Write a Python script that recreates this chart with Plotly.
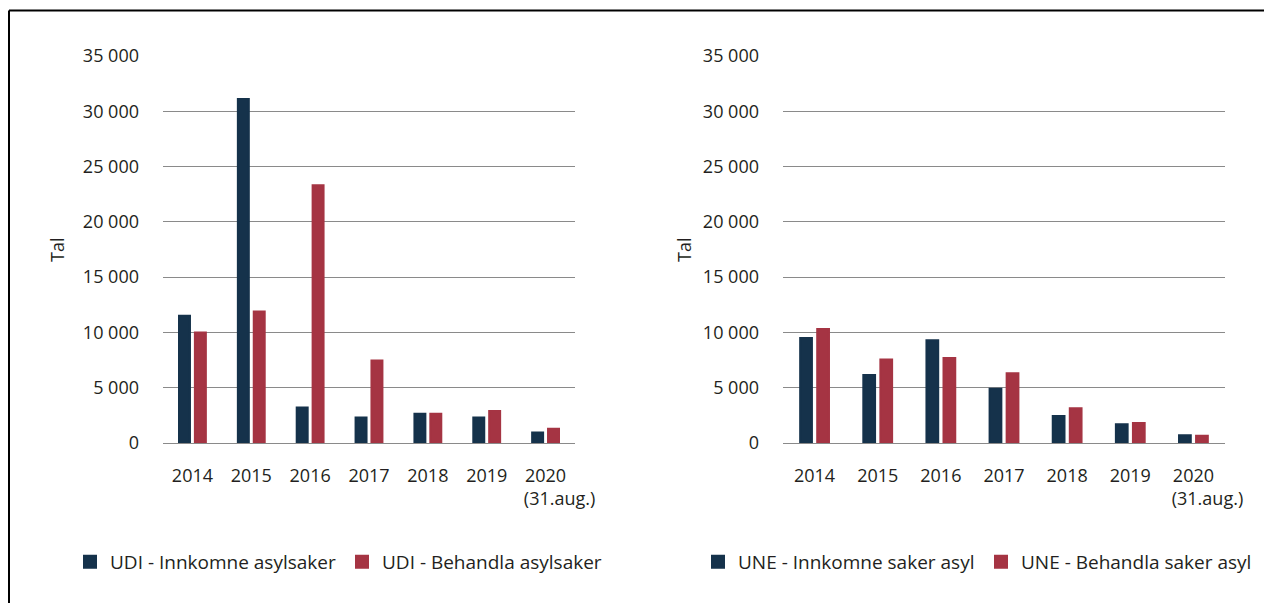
import plotly.graph_objects as go

categories = ["2014", "2015", "2016", "2017", "2018", "2019", "2020<br>(31.aug.)"]
# tick labels as printed (second line of the last label sits to the right, as in the source)
tick_labels = ["2014", "2015", "2016", "2017", "2018", "2019",
               "2020<br>\u00a0\u00a0\u00a0\u00a0\u00a0\u00a0(31.aug.)"]

udi_innkomne = [11500, 31100, 3200, 2300, 2650, 2300, 950]
udi_behandla = [10000, 11900, 23300, 7450, 2650, 2900, 1300]

une_innkomne = [9500, 6150, 9300, 4900, 2450, 1700, 690]
une_behandla = [10300, 7550, 7680, 6300, 3150, 1800, 650]

names_udi = ["UDI - Innkomne asylsaker", "UDI - Behandla asylsaker"]
names_une = ["UNE - Innkomne saker asyl", "UNE - Behandla saker asyl"]

DARK = "#15324b"
RED = "#a53443"
TXT = "#231f20"
GRID = "#8a8a8a"
FONT = "Open Sans"

# page body has an 8px margin: figure fills the rest of the 1272x603 window
OFF = 8
W, H = 1272 - OFF, 603 - OFF


def px(x):
    return (x - OFF) / W


def py(y):
    return 1 - (y - OFF) / H


fig = go.Figure()
for xs, ys, nm, col, xa, ya, lg in [
    (categories, udi_innkomne, names_udi[0], DARK, "x", "y", "legend"),
    (categories, udi_behandla, names_udi[1], RED, "x", "y", "legend"),
    (categories, une_innkomne, names_une[0], DARK, "x2", "y2", "legend2"),
    (categories, une_behandla, names_une[1], RED, "x2", "y2", "legend2"),
]:
    fig.add_trace(go.Bar(x=xs, y=ys, name=nm, marker=dict(color=col, line=dict(color=col, width=2)),
                         xaxis=xa, yaxis=ya, legend=lg))

ydom = [py(443), py(56)]
yax = dict(range=[0, 35000], tickvals=list(range(0, 35001, 5000)), tickformat=",d",
           showgrid=True, gridcolor=GRID, gridwidth=1.3, zeroline=True, zerolinecolor=GRID,
           zerolinewidth=1.3, showline=False, ticks="", ticklabelstandoff=23, automargin=False,
           tickfont=dict(size=18, color=TXT, family=FONT), domain=ydom, fixedrange=True)
xax = dict(type="category", showline=False, ticks="", showgrid=False, ticklabelstandoff=20,
           automargin=False, tickangle=0, tickmode="array", tickvals=categories, ticktext=tick_labels,
           tickfont=dict(size=18, color=TXT, family=FONT))

fig.update_layout(
    template="none",
    width=W, height=H,
    margin=dict(l=0, r=0, t=0, b=0, autoexpand=False),
    paper_bgcolor="white", plot_bgcolor="white",
    separators=", ",
    barmode="group", bargap=0.46, bargroupgap=0.31,
    font=dict(family=FONT, size=18, color=TXT),
    xaxis=dict(domain=[px(163), px(575)], anchor="y", **xax),
    yaxis=dict(anchor="x", **yax),
    xaxis2=dict(domain=[px(783), px(1225)], anchor="y2", **xax),
    yaxis2=dict(anchor="x2", **yax),
    legend=dict(orientation="h", x=px(70), xanchor="left", y=py(562), yanchor="middle",
                font=dict(size=19, color=TXT, family=FONT), entrywidth=227, entrywidthmode="pixels",
                bgcolor="rgba(0,0,0,0)", borderwidth=0),
    legend2=dict(orientation="h", x=px(698), xanchor="left", y=py(562), yanchor="middle",
                 font=dict(size=19, color=TXT, family=FONT), entrywidth=238, entrywidthmode="pixels",
                 bgcolor="rgba(0,0,0,0)", borderwidth=0),
    showlegend=True,
    annotations=[
        dict(text="Tal", x=px(57), y=py(250), xref="paper", yref="paper", showarrow=False,
             textangle=-90, font=dict(size=18, color=TXT, family=FONT), xanchor="center", yanchor="middle"),
        dict(text="Tal", x=px(684), y=py(250), xref="paper", yref="paper", showarrow=False,
             textangle=-90, font=dict(size=18, color=TXT, family=FONT), xanchor="center", yanchor="middle"),
    ],
    shapes=[
        dict(type="line", xref="paper", yref="paper", x0=px(9), x1=1.01, y0=py(10.5), y1=py(10.5),
             line=dict(color="black", width=2)),
        dict(type="line", xref="paper", yref="paper", x0=px(9), x1=px(9), y0=py(10.5), y1=-0.01,
             line=dict(color="black", width=2)),
    ],
)

fig.write_html("out.html")
